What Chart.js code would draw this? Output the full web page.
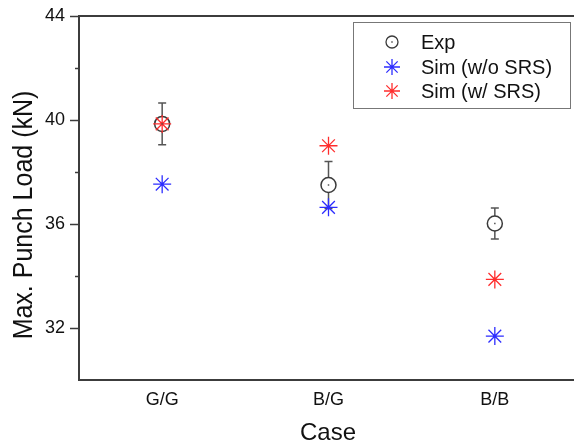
<!DOCTYPE html>
<html><head><meta charset="utf-8">
<title>Max. Punch Load</title>
<script src="https://cdn.jsdelivr.net/npm/chart.js"></script>
<style>
html,body{margin:0;padding:0;background:#fff;overflow:hidden}
#container{width:574px;height:447px;overflow:hidden}
</style></head>
<body>
<div id="container"><canvas id="canvas" width="578" height="447"></canvas></div>
<script>
// data
var cases = ['G/G', 'B/G', 'B/B'];
var expLoad = [39.85, 37.5, 36.02];
var expErr = [0.8, 0.9, 0.6];
var simNoSRS = [37.53, 36.64, 31.69];
var simSRS = [39.85, 39.01, 33.87];
var yLabelTicks = [32, 36, 40, 44];

var fontFam = "'Liberation Sans', Arial, sans-serif";
var axisColor = '#3c3c3c';
var blue = 'rgb(45,45,255)';
var red = 'rgb(255,45,45)';
var grey = '#3a3a3a';

var decor = {
  id: 'decor',
  beforeDatasetsDraw: function(chart) {
    var ctx = chart.ctx, x = chart.scales.x, y = chart.scales.y;
    ctx.save();
    ctx.strokeStyle = '#555';
    ctx.lineWidth = 1.5;
    for (var i = 0; i < expLoad.length; i++) {
      var px = x.getPixelForValue(i);
      var top = y.getPixelForValue(expLoad[i] + expErr[i]);
      var bot = y.getPixelForValue(expLoad[i] - expErr[i]);
      ctx.beginPath();
      ctx.moveTo(px, top); ctx.lineTo(px, bot);
      ctx.moveTo(px - 4, top); ctx.lineTo(px + 4, top);
      ctx.moveTo(px - 4, bot); ctx.lineTo(px + 4, bot);
      ctx.stroke();
    }
    ctx.restore();
  },
  afterDraw: function(chart) {
    var ctx = chart.ctx, a = chart.chartArea, x = chart.scales.x, y = chart.scales.y;
    ctx.save();
    // top frame line
    ctx.strokeStyle = axisColor;
    ctx.lineWidth = 2;
    ctx.beginPath();
    ctx.moveTo(a.left - 1, a.top); ctx.lineTo(a.right + 2, a.top);
    ctx.stroke();
    // y tick marks, major and minor
    for (var v = 32; v <= 44; v += 2) {
      var py = Math.round(y.getPixelForValue(v)) + 0.5;
      var len = (yLabelTicks.indexOf(v) >= 0) ? 9 : 4;
      ctx.lineWidth = 1.5;
      ctx.beginPath();
      ctx.moveTo(a.left - len, py); ctx.lineTo(a.left, py);
      ctx.stroke();
    }
    // centre dots of exp circles
    ctx.fillStyle = '#555';
    for (var i = 0; i < expLoad.length; i++) {
      ctx.fillRect(x.getPixelForValue(i) - 0.75, y.getPixelForValue(expLoad[i]) - 0.75, 1.5, 1.5);
    }
    // axis titles
    ctx.fillStyle = '#111';
    ctx.font = '24px ' + fontFam;
    ctx.textAlign = 'center';
    ctx.textBaseline = 'middle';
    ctx.fillText('Case', 328, 433);
    ctx.save();
    ctx.font = '25px ' + fontFam;
    ctx.translate(32, 215);
    ctx.rotate(-Math.PI / 2);
    ctx.scale(1, 1.12);
    ctx.textBaseline = 'alphabetic';
    ctx.fillText('Max. Punch Load (kN)', 0, 0);
    ctx.restore();
    // legend
    ctx.strokeStyle = '#777';
    ctx.lineWidth = 1;
    ctx.strokeRect(353.5, 22.5, 217, 86);
    var items = [
      {text: 'Exp', style: 'circle', color: grey, r: 6, y: 42},
      {text: 'Sim (w/o SRS)', style: 'star', color: blue, r: 8, y: 67},
      {text: 'Sim (w/ SRS)', style: 'star', color: red, r: 8, y: 91}
    ];
    ctx.font = '20px ' + fontFam;
    ctx.textAlign = 'left';
    items.forEach(function(it) {
      ctx.strokeStyle = it.color;
      ctx.fillStyle = '#fff';
      ctx.lineWidth = 1.3;
      Chart.helpers.drawPoint(ctx, {pointStyle: it.style, radius: it.r, rotation: 0, borderWidth: 1.3}, 392, it.y);
      if (it.style === 'circle') {
        ctx.fillStyle = '#555';
        ctx.fillRect(391.25, it.y - 0.75, 1.5, 1.5);
      }
      ctx.fillStyle = '#111';
      ctx.fillText(it.text, 421, it.y + 1);
    });
    ctx.restore();
  }
};

var ctx = document.getElementById('canvas').getContext('2d');
new Chart(ctx, {
  type: 'line',
  data: {
    labels: cases,
    datasets: [
      {label: 'Sim (w/ SRS)', data: simSRS, showLine: false, pointStyle: 'star', pointRadius: 9,
        pointBorderColor: red, pointBorderWidth: 1.3, pointBackgroundColor: red, order: 0},
      {label: 'Sim (w/o SRS)', data: simNoSRS, showLine: false, pointStyle: 'star', pointRadius: 9,
        pointBorderColor: blue, pointBorderWidth: 1.3, pointBackgroundColor: blue, order: 1},
      {label: 'Exp', data: expLoad, showLine: false, pointStyle: 'circle', pointRadius: 7.5,
        pointBorderColor: grey, pointBorderWidth: 1.5, pointBackgroundColor: '#fff', order: 2}
    ]
  },
  options: {
    responsive: false,
    animation: false,
    layout: {autoPadding: false, padding: {top: 16, left: 0, right: 0, bottom: 0}},
    plugins: {legend: {display: false}, tooltip: {enabled: false}},
    scales: {
      x: {
        type: 'category',
        offset: true,
        grid: {display: false},
        border: {display: true, color: axisColor, width: 2},
        ticks: {color: '#111', font: {family: fontFam, size: 18}, padding: 1, maxRotation: 0},
        afterFit: function(s) { s.height = 67; s.paddingLeft = 0; s.paddingRight = 0; }
      },
      y: {
        min: 30, max: 44,
        grid: {display: false},
        border: {display: true, color: axisColor, width: 2},
        ticks: {
          stepSize: 2, color: '#111', font: {family: fontFam, size: 18}, padding: 6,
          callback: function(v) { return yLabelTicks.indexOf(v) >= 0 ? v : ''; }
        },
        afterFit: function(s) { s.width = 79; s.paddingTop = 0; s.paddingBottom = 0; }
      }
    }
  },
  plugins: [decor]
});
</script>
</body></html>
